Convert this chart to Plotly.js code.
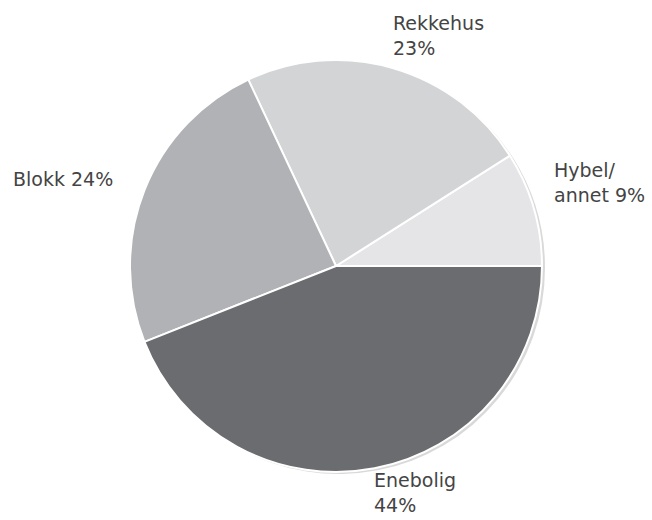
<!DOCTYPE html>
<html>
<head>
<meta charset="utf-8">
<script src="https://cdn.plot.ly/plotly-3.0.1.min.js"></script>
<style>html,body{margin:0;padding:0;background:#fff;}#chart{width:652px;height:520px;}</style>
</head>
<body>
<div id="chart"></div>
<script>
const categories = ["Hybel/annet", "Rekkehus", "Blokk", "Enebolig"];
const values = [9, 23, 24, 44];
const labelTexts = ["Hybel/<br>annet 9%", "Rekkehus<br>23%", "Blokk 24%", "Enebolig<br>44%"];
const colors = ["#e5e5e7", "#d3d4d6", "#b1b2b5", "#6b6c70"];

const W = 652, H = 520, cx = 336, cy = 266, r = 206;
function dom(ox, oy) {
  return {x: [(cx - r + ox) / W, (cx + r + ox) / W], y: [1 - (cy + r + oy) / H, 1 - (cy - r + oy) / H]};
}
const rot = 57.6;

const shadow = {
  type: "pie", values: values, labels: categories, sort: false,
  direction: "counterclockwise", rotation: rot,
  domain: dom(3, 2), textinfo: "none", hoverinfo: "skip",
  marker: {colors: values.map(() => "#d9d9d9"), line: {width: 0}},
  showlegend: false
};
const pie = {
  type: "pie", values: values, labels: categories, sort: false,
  direction: "counterclockwise", rotation: rot,
  domain: dom(0, 0), textinfo: "none",
  marker: {colors: colors, line: {color: "#ffffff", width: 2}},
  showlegend: false
};

// left edge and average baseline (px) for each label block
const labelPos = [
  {x: 553, y: 189.5}, {x: 392, y: 41.7}, {x: 12, y: 186}, {x: 373, y: 499.5}
];
const fs = 19;
const annotations = labelTexts.map((t, i) => ({
  text: t, xref: "paper", yref: "paper",
  x: labelPos[i].x / W, y: 1 - (labelPos[i].y - 0.346 * fs) / H,
  xanchor: "left", yanchor: "middle", align: "left", showarrow: false,
  borderpad: 0,
  font: {family: "DejaVu Sans", size: fs, color: "#444444"}
}));

Plotly.newPlot("chart", [shadow, pie], {
  width: W, height: H, margin: {l: 0, r: 0, t: 0, b: 0},
  paper_bgcolor: "#ffffff", showlegend: false, annotations: annotations
}, {displayModeBar: false, staticPlot: true});
</script>
</body>
</html>
